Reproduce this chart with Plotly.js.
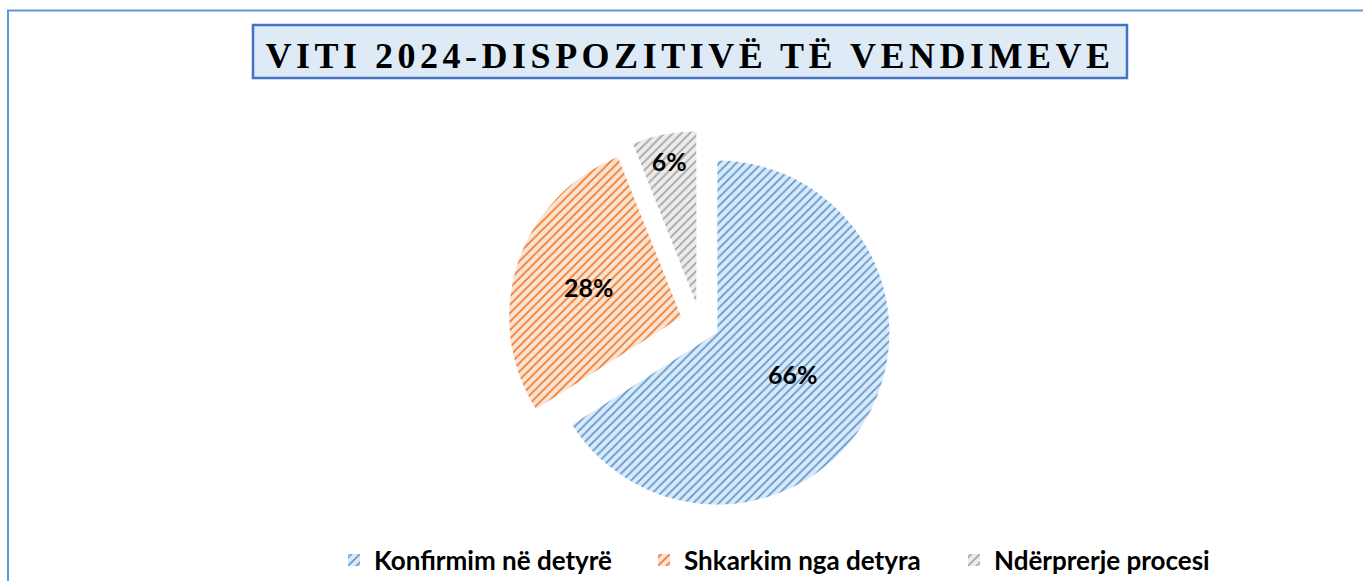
<!DOCTYPE html>
<html>
<head>
<meta charset="utf-8">
<script src="https://cdn.plot.ly/plotly-3.0.1.min.js"></script>
<style>
  html, body { margin: 0; padding: 0; background: #fff; }
  #chart { width: 1363px; height: 581px; }
  .gtitle { letter-spacing: 4.5px; }
</style>
</head>
<body>
<div id="chart"></div>
<script>
// ---- data ----
const categories = ["Konfirmim në detyrë", "Shkarkim nga detyra", "Ndërprerje procesi"];
const shares = [66, 28, 6];
const titleText = "VITI 2024-DISPOZITIVË TË VENDIMEVE";

// ---- styling ----
const fillColors = ["#DCE9F6", "#FBE3D2", "#ECECEC"];
const stripeColors = ["#5B9BD5", "#ED7D31", "#A5A5A5"];

const W = 1363, H = 581;
const cx = 700, cy = 323, R = 172, pull = 0.115;
const half = R * (1 + pull);

const trace = {
  type: "pie",
  labels: categories,
  values: shares,
  sort: false,
  direction: "clockwise",
  rotation: 0,
  pull: [pull, pull, pull],
  textinfo: "percent",
  textposition: "inside",
  insidetextorientation: "horizontal",
  insidetextfont: { family: "Lato, 'Open Sans', sans-serif", size: 25, weight: "bold", color: "#000" },
  hoverinfo: "label+percent",
  marker: {
    colors: fillColors,
    line: { width: 0 },
    pattern: {
      shape: "/",
      fgcolor: stripeColors,
      bgcolor: fillColors,
      size: 6,
      solidity: 0.3,
      fillmode: "replace"
    }
  },
  domain: {
    x: [(cx - half) / W, (cx + half) / W],
    y: [1 - (cy + half) / H, 1 - (cy - half) / H]
  }
};

const layout = {
  width: W,
  height: H,
  margin: { l: 0, r: 0, t: 0, b: 0, autoexpand: false },
  paper_bgcolor: "#fff",
  plot_bgcolor: "#fff",
  title: {
    text: "<b>" + titleText + "</b>",
    font: { family: "'Liberation Serif', 'Times New Roman', serif", size: 36, color: "#000" },
    x: 690 / W,
    xanchor: "center",
    xref: "paper",
    y: 1 - 55 / H,
    yanchor: "middle",
    yref: "paper"
  },
  showlegend: true,
  legend: {
    orientation: "h",
    x: 334 / W,
    xanchor: "left",
    y: 1 - 560 / H,
    yanchor: "middle",
    entrywidth: 265,
    entrywidthmode: "pixels",
    font: { family: "Lato, 'Open Sans', sans-serif", size: 26, weight: "bold", color: "#000" },
    bgcolor: "rgba(0,0,0,0)"
  },
  shapes: [
    {
      type: "rect", xref: "paper", yref: "paper", layer: "below",
      x0: 8 / W, x1: 1.02, y0: -0.02, y1: 1 - 10.5 / H,
      line: { color: "#5B9BD5", width: 2 }, fillcolor: "rgba(0,0,0,0)"
    },
    {
      type: "rect", xref: "paper", yref: "paper", layer: "below",
      x0: 253 / W, x1: 1127 / W, y0: 1 - 78 / H, y1: 1 - 25 / H,
      line: { color: "#4472C4", width: 2.5 }, fillcolor: "#DEEBF7"
    }
  ]
};

Plotly.newPlot("chart", [trace], layout, { displayModeBar: false, responsive: false });
</script>
</body>
</html>
